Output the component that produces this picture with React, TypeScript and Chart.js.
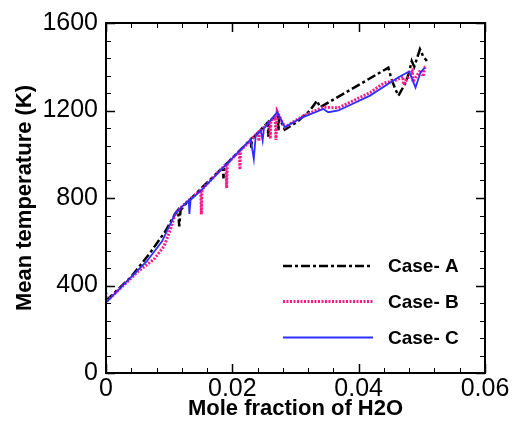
import React, { useEffect, useRef } from "react";
import { Chart, registerables } from "chart.js";

Chart.register(...registerables);

// Mole fraction of H2O (x) and mean temperature in K (y) for each case
const caseAX = [0, 0.004, 0.007, 0.0094, 0.011, 0.0114, 0.0116, 0.0118, 0.013, 0.016, 0.0185, 0.0186, 0.0187, 0.021, 0.0229, 0.023, 0.0231, 0.0256, 0.0257, 0.0258, 0.0268, 0.0272, 0.0273, 0.0274, 0.0283, 0.0302, 0.0323, 0.0334, 0.0339, 0.039, 0.0447, 0.0452, 0.0458, 0.0463, 0.0473, 0.0479, 0.0484, 0.0488, 0.0497, 0.0502, 0.0508];
const caseAY = [330, 440, 550, 648, 730, 745, 670, 745, 785, 870, 940, 890, 945, 1012, 1068, 1030, 1070, 1145, 1080, 1148, 1175, 1188, 1105, 1170, 1112, 1147, 1200, 1245, 1215, 1300, 1396, 1343, 1298, 1268, 1320, 1366, 1426, 1400, 1480, 1449, 1426];

const caseBX = [0, 0, 0.005, 0.0076, 0.0092, 0.0102, 0.011, 0.0126, 0.015, 0.0151, 0.0152, 0.019, 0.0191, 0.0192, 0.0211, 0.0212, 0.0213, 0.0241, 0.0242, 0.0243, 0.0259, 0.026, 0.0261, 0.0268, 0.0269, 0.0271, 0.0283, 0.0312, 0.0344, 0.0368, 0.0418, 0.044, 0.046, 0.047, 0.0471, 0.0476, 0.0485, 0.0486, 0.049, 0.0498, 0.0502, 0.0505, 0.0508];
const caseBY = [368, 325, 462, 520, 580, 656, 731, 777, 837, 725, 840, 955, 845, 958, 1013, 930, 1017, 1100, 1060, 1103, 1150, 1071, 1152, 1172, 1065, 1195, 1124, 1175, 1215, 1212, 1282, 1325, 1340, 1355, 1318, 1340, 1380, 1330, 1350, 1385, 1355, 1398, 1400];

const caseCX = [0, 0.0065, 0.0089, 0.011, 0.0126, 0.0131, 0.0132, 0.0134, 0.0154, 0.0207, 0.0229, 0.0234, 0.0237, 0.0245, 0.0248, 0.025, 0.0271, 0.0283, 0.0312, 0.0344, 0.0352, 0.0368, 0.0418, 0.0463, 0.048, 0.049, 0.0498, 0.0505];
const caseCY = [322, 512, 603, 731, 777, 790, 727, 792, 845, 1003, 1068, 978, 1085, 1110, 1062, 1118, 1192, 1124, 1170, 1207, 1192, 1200, 1268, 1352, 1378, 1305, 1375, 1396];

const caseLabels = ["Case- A", "Case- B", "Case- C"];

// Axis ranges and tick values
const xTicks = [0, 0.02, 0.04, 0.06];
const yTicks = [0, 400, 800, 1200, 1600];
const xMinorStep = 0.004;
const yMinorStep = 80;

const xTitle = "Mole fraction of H2O";
const yTitle = "Mean temperature (K)";

const FONT = '"Liberation Sans", Arial, sans-serif';

const toPoints = (xs: number[], ys: number[]) => xs.map((x, i) => ({ x, y: ys[i] }));

// Frame, inward major/minor ticks on all four sides, and the inset legend
const framePlugin = {
  id: "frameTicksLegend",
  afterDatasetsDraw(chart: any) {
    const { ctx, chartArea: a, scales } = chart;
    const xs = scales.x;
    const ys = scales.y;
    ctx.save();
    ctx.strokeStyle = "#000";

    const xMin = xTicks[0];
    const xMax = xTicks[xTicks.length - 1];
    const nx = Math.round((xMax - xMin) / xMinorStep);
    const xMajorEvery = Math.round((xTicks[1] - xTicks[0]) / xMinorStep);
    for (let i = 0; i <= nx; i++) {
      const px = Math.round(xs.getPixelForValue(xMin + i * xMinorStep)) + 0.5;
      const major = i % xMajorEvery === 0;
      const len = major ? 9 : 5;
      ctx.lineWidth = major ? 1.5 : 1;
      ctx.beginPath();
      ctx.moveTo(px, a.bottom);
      ctx.lineTo(px, a.bottom - len);
      ctx.moveTo(px, a.top);
      ctx.lineTo(px, a.top + len);
      ctx.stroke();
    }

    const yMin = yTicks[0];
    const yMax = yTicks[yTicks.length - 1];
    const ny = Math.round((yMax - yMin) / yMinorStep);
    const yMajorEvery = Math.round((yTicks[1] - yTicks[0]) / yMinorStep);
    for (let i = 0; i <= ny; i++) {
      const py = Math.round(ys.getPixelForValue(yMin + i * yMinorStep)) + 0.5;
      const major = i % yMajorEvery === 0;
      const len = major ? 9 : 5;
      ctx.lineWidth = major ? 1.5 : 1;
      ctx.beginPath();
      ctx.moveTo(a.left, py);
      ctx.lineTo(a.left + len, py);
      ctx.moveTo(a.right, py);
      ctx.lineTo(a.right - len, py);
      ctx.stroke();
    }

    ctx.lineWidth = 2;
    ctx.setLineDash([]);
    ctx.strokeRect(a.left, a.top, a.right - a.left, a.bottom - a.top);

    // legend
    const legendRows = [266, 301.5, 337.5];
    chart.data.datasets.forEach((ds: any, i: number) => {
      const y = legendRows[i];
      ctx.save();
      ctx.strokeStyle = ds.borderColor;
      ctx.lineWidth = ds.borderWidth;
      ctx.setLineDash(ds.borderDash || []);
      ctx.beginPath();
      ctx.moveTo(283, y);
      ctx.lineTo(373, y);
      ctx.stroke();
      ctx.restore();
      ctx.fillStyle = "#000";
      ctx.font = `bold 19px ${FONT}`;
      ctx.textAlign = "left";
      ctx.textBaseline = "middle";
      ctx.fillText(ds.label, 388, y + 1);
    });
    ctx.restore();
  },
};

export default function App() {
  const canvasRef = useRef<HTMLCanvasElement | null>(null);

  useEffect(() => {
    const canvas = canvasRef.current;
    if (!canvas) return;
    const chart = new Chart(canvas, {
      type: "line",
      data: {
        datasets: [
          {
            label: caseLabels[0],
            data: toPoints(caseAX, caseAY),
            borderColor: "#000000",
            borderWidth: 2.5,
            borderDash: [9, 3, 3, 3],
            pointRadius: 0,
            tension: 0,
            fill: false,
            order: 3,
          },
          {
            label: caseLabels[1],
            data: toPoints(caseBX, caseBY),
            borderColor: "#ff1a8c",
            borderWidth: 3,
            borderDash: [2, 1.5],
            pointRadius: 0,
            tension: 0,
            fill: false,
            order: 2,
          },
          {
            label: caseLabels[2],
            data: toPoints(caseCX, caseCY),
            borderColor: "#2f2fff",
            borderWidth: 1.8,
            borderDash: [],
            pointRadius: 0,
            tension: 0,
            fill: false,
            order: 1,
          },
        ],
      },
      options: {
        animation: false,
        responsive: false,
        devicePixelRatio: 1,
        layout: { padding: { top: 20, right: 31, bottom: 0, left: 0 } },
        plugins: {
          legend: { display: false },
          tooltip: { enabled: false },
        },
        scales: {
          x: {
            type: "linear",
            min: xTicks[0],
            max: xTicks[xTicks.length - 1],
            afterBuildTicks: (s: any) => {
              s.ticks = xTicks.map((v) => ({ value: v }));
            },
            afterFit: (s: any) => {
              s.height = 52;
            },
            grid: { display: false, drawTicks: false },
            border: { display: false },
            ticks: {
              color: "#000",
              padding: 1,
              maxRotation: 0,
              font: { family: FONT, size: 25 },
              callback: (v: any) => String(Number(Number(v).toFixed(3))),
            },
            title: {
              display: true,
              text: xTitle,
              color: "#000",
              font: { family: FONT, size: 22, weight: "bold" },
              padding: { top: 3, bottom: 3 },
            },
          },
          y: {
            type: "linear",
            min: yTicks[0],
            max: yTicks[yTicks.length - 1],
            afterBuildTicks: (s: any) => {
              s.ticks = yTicks.map((v) => ({ value: v }));
            },
            afterFit: (s: any) => {
              s.width = 106;
            },
            grid: { display: false, drawTicks: false },
            border: { display: false },
            ticks: {
              color: "#000",
              padding: 8,
              font: { family: FONT, size: 25 },
              callback: (v: any) => String(v),
            },
            title: {
              display: true,
              text: yTitle,
              color: "#000",
              font: { family: FONT, size: 22, weight: "bold" },
              padding: { top: 12, bottom: 0 },
            },
          },
        },
      },
      plugins: [framePlugin],
    } as any);
    return () => chart.destroy();
  }, []);

  return (
    <div style={{ position: "absolute", left: 0, top: 0, width: 516, height: 425, background: "#fff" }}>
      <canvas ref={canvasRef} width={516} height={425} style={{ width: 516, height: 425, display: "block" }} />
    </div>
  );
}
